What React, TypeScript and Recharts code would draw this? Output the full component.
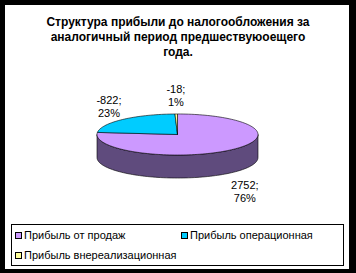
import { PieChart, Pie, Cell, Legend } from 'recharts';

const titleLines = [
  'Структура прибыли до налогообложения за',
  'аналогичный период предшествуюоещего',
  'года.',
];
const categories = ['Прибыль от продаж', 'Прибыль операционная', 'Прибыль внереализационная'];
const values = [2752, -822, -18];
const percentLabels = ['76%', '23%', '1%'];
const topColors = ['#CC99FF', '#00CCFF', '#FFFF99'];
const sideColors = ['#5F4B7D', '#00667F', '#7F7F4C'];

const data = categories.map((name, i) => ({ name, value: Math.abs(values[i]) }));

const FONT = '"Liberation Sans", Arial, sans-serif';
const TILT = 0.255; // vertical squash of the top face
const DEPTH = 23; // height of the pie wall

function pt(cx: number, cy: number, rx: number, ry: number, deg: number, dy = 0) {
  const r = (deg * Math.PI) / 180;
  return `${(cx + rx * Math.cos(r)).toFixed(2)},${(cy - ry * Math.sin(r) + dy).toFixed(2)}`;
}

function arc(cx: number, cy: number, rx: number, ry: number, a0: number, a1: number, dy = 0) {
  const n = Math.max(2, Math.ceil(Math.abs(a1 - a0) / 2));
  const out: string[] = [];
  for (let k = 0; k <= n; k++) out.push(pt(cx, cy, rx, ry, a0 + ((a1 - a0) * k) / n, dy));
  return out;
}

function Slice3D(props: any) {
  const { cx, cy, outerRadius, startAngle, endAngle, fill } = props;
  const idx = Math.max(0, topColors.indexOf(fill));
  const rx = outerRadius;
  const ry = outerRadius * TILT;
  const lo = Math.min(startAngle, endAngle);
  const hi = Math.max(startAngle, endAngle);
  const walls = [];
  for (let k = -2; k <= 1; k++) {
    const a = Math.max(lo, -180 + 360 * k);
    const b = Math.min(hi, 360 * k);
    if (b > a) {
      const pts = [...arc(cx, cy, rx, ry, a, b), ...arc(cx, cy, rx, ry, b, a, DEPTH)];
      walls.push(
        <polygon key={k} points={pts.join(' ')} fill={sideColors[idx]} stroke="#000" strokeWidth={0.6} />
      );
    }
  }
  const face = [`${cx},${cy}`, ...arc(cx, cy, rx, ry, startAngle, endAngle)].join(' ');
  return (
    <g>
      {walls}
      <polygon points={face} fill={fill} stroke="#000" strokeWidth={0.6} strokeLinejoin="round" />
    </g>
  );
}

function renderLabel(props: any) {
  const { cx, cy, outerRadius, midAngle, index } = props;
  const r = (midAngle * Math.PI) / 180;
  const s = Math.sin(r);
  const x = cx + (outerRadius + 20) * Math.cos(r);
  const y = cy - (outerRadius * TILT + 18) * s + (s < 0 ? DEPTH + 5 : 0);
  return (
    <text x={x} y={y} textAnchor="middle" fontSize={11} fill="#000" fontFamily={FONT}>
      <tspan x={x} y={y - 2.5}>{`${values[index]};`}</tspan>
      <tspan x={x} y={y + 10.5}>{percentLabels[index]}</tspan>
    </text>
  );
}

function renderLegend() {
  return (
    <div
      style={{
        position: 'relative',
        width: 333,
        height: 42,
        border: '1px solid #000',
        boxSizing: 'border-box',
        background: '#fff',
        fontFamily: FONT,
        fontSize: 11,
        color: '#000',
      }}
    >
      {categories.map((name, i) => (
        <div
          key={name}
          style={{
            position: 'absolute',
            left: 3 + (i % 2) * 166,
            top: 3 + Math.floor(i / 2) * 20,
            height: 14,
            display: 'flex',
            alignItems: 'center',
            whiteSpace: 'nowrap',
          }}
        >
          <span
            style={{
              width: 5,
              height: 5,
              border: '1px solid #000',
              background: topColors[i],
              marginRight: 2,
              display: 'inline-block',
            }}
          />
          <span>{name}</span>
        </div>
      ))}
    </div>
  );
}

export default function App() {
  return (
    <div style={{ position: 'fixed', left: 0, top: 0, width: 356, height: 273, background: '#000' }}>
      <div style={{ position: 'absolute', left: 5, top: 5, width: 344, height: 264, background: '#fff' }} />
      <div
        style={{
          position: 'absolute',
          left: 0,
          top: 15,
          width: 356,
          textAlign: 'center',
          fontFamily: FONT,
          fontWeight: 'bold',
          fontSize: 12,
          lineHeight: '15px',
          color: '#000',
        }}
      >
        {titleLines.map((line, i) => (
          <div key={i}>{line}</div>
        ))}
      </div>
      <div style={{ position: 'absolute', left: 0, top: 0 }}>
        <PieChart width={356} height={273} margin={{ top: 0, right: 0, bottom: 0, left: 0 }}>
          <Pie
            data={data}
            dataKey="value"
            nameKey="name"
            cx={177.5}
            cy={134.5}
            outerRadius={80.5}
            startAngle={90}
            endAngle={-270}
            stroke="none"
            shape={Slice3D}
            label={renderLabel}
            labelLine={false}
            isAnimationActive={false}
          >
            {data.map((d, i) => (
              <Cell key={d.name} fill={topColors[i]} />
            ))}
          </Pie>
          <Legend
            verticalAlign="bottom"
            content={renderLegend}
            wrapperStyle={{ left: 11, top: 224, bottom: 'auto', width: 333, height: 42 }}
          />
        </PieChart>
      </div>
    </div>
  );
}
